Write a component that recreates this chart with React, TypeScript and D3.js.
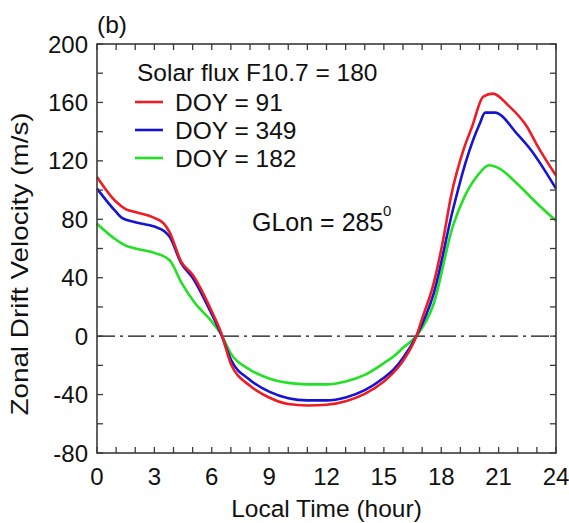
import React from "react";
import * as d3 from "d3";

const hours91 = [0, 1, 1.5, 2, 3, 3.5, 3.8, 4.4, 5, 6, 6.5, 7, 8, 9, 10, 11, 12, 13, 14, 15, 15.5, 16, 16.7, 17, 17.6, 18.1, 18.5, 19.2, 19.6, 20.2, 20.7, 21.5, 22.5, 23, 24];
const vel91 = [109, 92, 87, 85, 81, 77, 71, 51, 42, 17, 2, -19, -34, -42, -46.5, -47.5, -47, -44.5, -39.5, -31, -25, -17, 0, 12, 36, 66, 95, 129, 143, 164, 166, 158, 143, 131, 110];

const hours349 = [0, 1, 1.3, 2, 3, 3.5, 3.8, 4.4, 5, 6, 6.5, 7, 8, 9, 10, 11, 12, 13, 14, 15, 15.5, 16, 16.7, 17.6, 18.6, 19.3, 20, 20.3, 20.8, 22, 22.6, 24];
const vel349 = [101, 85, 81, 78, 75, 72, 68, 50, 40, 15, 1, -16, -30, -38, -42.5, -44, -44, -42, -37, -28.5, -23, -15, 0, 29, 86, 120, 145, 153, 153, 138, 129, 101];

const hours182 = [0, 1, 1.5, 2, 3, 3.8, 4.4, 5.1, 6, 6.5, 7, 8, 9, 10, 11, 12, 13, 14, 15, 15.5, 16, 16.7, 17.6, 18.6, 19.2, 19.9, 20.5, 21, 22, 23, 24];
const vel182 = [77, 66, 62, 60, 57, 52, 37, 23, 10, 1, -12, -23, -29, -32, -33, -33, -31, -26.5, -18.5, -14, -8, 0, 22, 75, 95, 110, 117, 115, 104, 91, 79];

const seriesLabels = ["DOY = 91", "DOY = 349", "DOY = 182"];
const seriesColors = ["#ee1c24", "#1414d2", "#22e022"];
const yTickLabels = [-80, -40, 0, 40, 80, 120, 160, 200];
const xTickLabels = [0, 3, 6, 9, 12, 15, 18, 21, 24];

const W = 569;
const H = 523;
const L = 97, R = 556, T = 44, B = 453;
const FONT = "Arial, 'Liberation Sans', Helvetica, sans-serif";

export default function App() {
  const x = d3.scaleLinear().domain([0, 24]).range([L, R]);
  const y = d3.scaleLinear().domain([-80, 200]).range([B, T]);
  const line = d3
    .line<[number, number]>()
    .x((d) => x(d[0]))
    .y((d) => y(d[1]))
    .curve(d3.curveMonotoneX);

  const series = [
    { h: hours91, v: vel91 },
    { h: hours349, v: vel349 },
    { h: hours182, v: vel182 },
  ];
  const drawOrder = [2, 1, 0];

  const xMinor = d3.range(0, 25, 1);
  const yMinor = d3.range(-80, 201, 20);
  const tickLen = 6;
  const axisColor = "#3a3a3a";

  return (
    <svg
      width={W}
      height={H}
      style={{ position: "absolute", left: 0, top: 0, background: "#fff" }}
      fontFamily={FONT}
    >
      <rect x={0} y={0} width={W} height={H} fill="#fff" />
      <line
        x1={L}
        x2={R}
        y1={y(0)}
        y2={y(0)}
        stroke="#111"
        strokeWidth={1.3}
        strokeDasharray="18,5,3,5"
      />
      {drawOrder.map((i) => {
        const pts: [number, number][] = series[i].h.map((h, k) => [h, series[i].v[k]]);
        return (
          <path
            key={i}
            d={line(pts) || ""}
            fill="none"
            stroke={seriesColors[i]}
            strokeWidth={2.6}
            strokeLinejoin="round"
          />
        );
      })}
      {xMinor.map((h) => (
        <g key={"xt" + h}>
          <line x1={x(h)} x2={x(h)} y1={B} y2={B - tickLen} stroke={axisColor} strokeWidth={1.3} />
          <line x1={x(h)} x2={x(h)} y1={T} y2={T + tickLen} stroke={axisColor} strokeWidth={1.3} />
        </g>
      ))}
      {yMinor.map((v) => (
        <g key={"yt" + v}>
          <line x1={L} x2={L + tickLen} y1={y(v)} y2={y(v)} stroke={axisColor} strokeWidth={1.3} />
          <line x1={R} x2={R - tickLen} y1={y(v)} y2={y(v)} stroke={axisColor} strokeWidth={1.3} />
        </g>
      ))}
      <rect x={L} y={T} width={R - L} height={B - T} fill="none" stroke={axisColor} strokeWidth={1.6} />
      {yTickLabels.map((v) => (
        <text key={"yl" + v} x={88} y={y(v) + 8.5} textAnchor="end" fontSize={24} fill="#111">
          {v}
        </text>
      ))}
      {xTickLabels.map((h) => (
        <text key={"xl" + h} x={x(h)} y={485} textAnchor="middle" fontSize={24} fill="#111">
          {h}
        </text>
      ))}
      <text x={(L + R) / 2} y={517} textAnchor="middle" fontSize={24.5} fill="#111">
        Local Time (hour)
      </text>
      <text
        transform={`translate(28,264) rotate(-90) scale(1.16,1)`}
        textAnchor="middle"
        fontSize={24}
        fill="#111"
      >
        Zonal Drift Velocity (m/s)
      </text>
      <text x={97} y={33} fontSize={24.5} fill="#111">
        (b)
      </text>
      <text x={137} y={81} fontSize={24.5} fill="#111">
        Solar flux F10.7 = 180
      </text>
      {seriesLabels.map((lab, i) => {
        const cy = 102 + i * 28;
        return (
          <g key={lab}>
            <line x1={135} x2={163} y1={cy} y2={cy} stroke={seriesColors[i]} strokeWidth={2.6} />
            <text x={175} y={cy + 8.5} fontSize={24.5} fill="#111">
              {lab}
            </text>
          </g>
        );
      })}
      <text x={252} y={231} fontSize={25} fill="#111">
        GLon = 285
      </text>
      <text x={383} y={216} fontSize={15} fill="#111">
        0
      </text>
    </svg>
  );
}
